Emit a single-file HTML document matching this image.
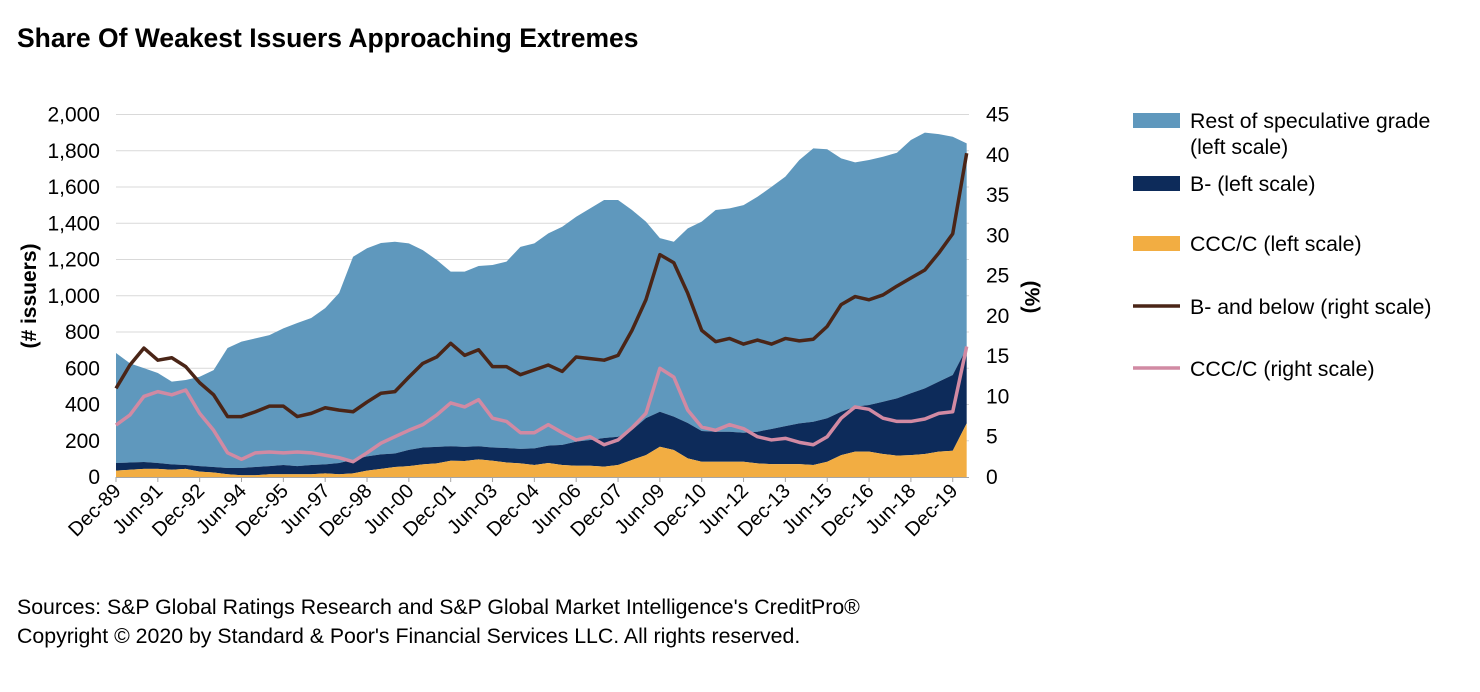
<!DOCTYPE html>
<html><head><meta charset="utf-8"><style>
body{margin:0;background:#fff;}
svg{display:block;font-family:"Liberation Sans",Arial,sans-serif;}
</style></head><body>
<svg id="c" width="1480" height="692" xmlns="http://www.w3.org/2000/svg">
<text x="17" y="47" font-size="26.5" font-weight="bold" fill="#000">Share Of Weakest Issuers Approaching Extremes</text>
<g id="grid"></g><g id="areas"></g><g id="lines"></g><g id="axes"></g>
<text transform="translate(36,296) rotate(-90)" text-anchor="middle" font-size="21" font-weight="bold">(# issuers)</text>
<text transform="translate(1025,297) rotate(90)" text-anchor="middle" font-size="21" font-weight="bold">(%)</text>
<g>
<rect x="1133" y="113" width="47" height="15" fill="#5f98bd"/>
<text x="1190" y="128" font-size="21.3">Rest of speculative grade</text>
<text x="1190" y="154" font-size="21.3">(left scale)</text>
<rect x="1133" y="176" width="47" height="15" fill="#0d2b5a"/>
<text x="1190" y="191" font-size="21.3">B- (left scale)</text>
<rect x="1133" y="236" width="47" height="15" fill="#f2ad42"/>
<text x="1190" y="251" font-size="21.3">CCC/C (left scale)</text>
<line x1="1133" y1="306" x2="1180" y2="306" stroke="#4a2517" stroke-width="3.5"/>
<text x="1190" y="314" font-size="21.3">B- and below (right scale)</text>
<line x1="1133" y1="368" x2="1180" y2="368" stroke="#d18aa3" stroke-width="3.5"/>
<text x="1190" y="376" font-size="21.3">CCC/C (right scale)</text>
</g>
<text x="17" y="614" font-size="21.3">Sources: S&amp;P Global Ratings Research and S&amp;P Global Market Intelligence's CreditPro®</text>
<text x="17" y="643" font-size="21.3">Copyright © 2020 by Standard &amp; Poor's Financial Services LLC. All rights reserved.</text>
</svg>
<script>
// months since Dec-89, every 6 months
const months=[0,6,12,18,24,30,36,42,48,54,60,66,72,78,84,90,96,102,108,114,120,126,132,138,144,150,156,162,168,174,180,186,192,198,204,210,216,222,228,234,240,246,252,258,264,270,276,282,288,294,300,306,312,318,324,330,336,342,348,354,360,366];
const totalIssuers=[684,627,601,574,526,535,553,590,712,747,765,783,820,850,877,932,1015,1215,1262,1291,1298,1289,1252,1197,1133,1133,1164,1170,1188,1270,1289,1344,1381,1436,1482,1528,1528,1473,1409,1318,1298,1372,1409,1473,1482,1500,1546,1601,1657,1749,1813,1808,1758,1736,1749,1767,1789,1859,1900,1892,1877,1841];
const bMinusAndCcc=[77,80,83,77,70,66,60,55,50,50,55,60,66,60,66,70,77,95,114,125,130,150,163,166,170,166,170,163,160,155,158,173,177,195,204,215,222,259,325,360,333,298,254,250,250,244,250,265,281,296,305,324,360,388,397,415,434,462,489,526,563,712];
const cccCount=[35,40,45,45,40,45,30,25,15,10,10,15,15,15,15,20,15,20,35,45,55,60,70,75,90,88,97,90,80,75,66,77,66,62,62,57,66,94,121,167,149,103,84,84,84,84,75,71,71,71,66,84,121,140,140,127,118,121,127,140,145,296];
const bBelowPct=[11.0,13.9,16.0,14.5,14.8,13.7,11.7,10.2,7.5,7.5,8.1,8.8,8.8,7.5,7.9,8.6,8.3,8.1,9.3,10.4,10.6,12.4,14.1,14.9,16.6,15.1,15.8,13.7,13.7,12.7,13.3,13.9,13.1,14.9,14.7,14.5,15.1,18.2,22.0,27.6,26.6,22.8,18.2,16.8,17.2,16.5,17.0,16.5,17.2,16.9,17.1,18.7,21.4,22.4,22.0,22.6,23.7,24.7,25.7,27.8,30.2,40.2];
const cccPct=[6.45,7.7,10.0,10.6,10.2,10.8,7.9,5.8,3.0,2.2,3.0,3.1,3.0,3.1,3.0,2.7,2.4,1.9,3.0,4.2,5.0,5.8,6.5,7.7,9.2,8.7,9.6,7.3,6.9,5.5,5.5,6.5,5.5,4.6,5.0,4.0,4.6,6.1,7.9,13.5,12.4,8.3,6.2,5.8,6.5,6.0,5.0,4.6,4.8,4.3,4.0,5.0,7.3,8.7,8.4,7.3,6.9,6.9,7.2,7.9,8.1,16.2];
const leftTicks=[0,200,400,600,800,1000,1200,1400,1600,1800,2000];
const rightTicks=[0,5,10,15,20,25,30,35,40,45];
const xLabels=["Dec-89","Jun-91","Dec-92","Jun-94","Dec-95","Jun-97","Dec-98","Jun-00","Dec-01","Jun-03","Dec-04","Jun-06","Dec-07","Jun-09","Dec-10","Jun-12","Dec-13","Jun-15","Dec-16","Jun-18","Dec-19"];

const NS="http://www.w3.org/2000/svg";
const X0=116,X1=969,Y0=477,Y1=114.5;
const xS=m=>X0+m*(X1-X0)/367;
const yL=v=>Y0-v*(Y0-Y1)/2000;
const yR=v=>Y0-v*(Y0-Y1)/45;
function mk(t,a,p){const e=document.createElementNS(NS,t);for(const k in a)e.setAttribute(k,a[k]);p.appendChild(e);return e;}
const grid=document.getElementById('grid'),areas=document.getElementById('areas'),lines=document.getElementById('lines'),axes=document.getElementById('axes');
leftTicks.forEach((v,i)=>{
  if(v>0){const g=mk('line',{x1:X0,x2:X1,y1:yL(v),y2:yL(v),stroke:'#d9d9d9','stroke-width':1},grid);
  
  }
  const t=mk('text',{x:100,y:yL(v)+7,'text-anchor':'end','font-size':21},axes);t.textContent=v.toLocaleString('en-US');
  
  
});
rightTicks.forEach(v=>{
  const t=mk('text',{x:986,y:yR(v)+7,'font-size':21},axes);t.textContent=v;
  
  
});
function areaPath(top,bot){
  let d='M'+xS(months[0])+','+yL(top[0]);
  for(let i=1;i<months.length;i++)d+='L'+xS(months[i])+','+yL(top[i]);
  for(let i=months.length-1;i>=0;i--)d+='L'+xS(months[i])+','+yL(bot?bot[i]:0);
  return d+'Z';
}
const a1=mk('path',{d:areaPath(totalIssuers,bMinusAndCcc),fill:'#5f98bd'},areas);


const a2=mk('path',{d:areaPath(bMinusAndCcc,cccCount),fill:'#0d2b5a'},areas);


const a3=mk('path',{d:areaPath(cccCount,null),fill:'#f2ad42'},areas);


function linePath(vals){return vals.map((v,i)=>(i?'L':'M')+xS(months[i])+','+yR(v)).join('');}
const l2=mk('path',{d:linePath(cccPct),fill:'none',stroke:'#d18aa3','stroke-width':3.5,'stroke-linejoin':'round'},lines);


const l1=mk('path',{d:linePath(bBelowPct),fill:'none',stroke:'#4a2517','stroke-width':3.5,'stroke-linejoin':'round'},lines);


const ax=mk('line',{x1:X0,x2:X1,y1:Y0+0.5,y2:Y0+0.5,stroke:'#a6a6a6','stroke-width':1},axes);


xLabels.forEach((s,i)=>{
  const x=xS(i*18);
  const tk=mk('line',{x1:x,x2:x,y1:Y0,y2:Y0+5,stroke:'#a6a6a6'},axes);
  
  
  const t=mk('text',{transform:`translate(${x+6},${Y0+15}) rotate(-45)`,'text-anchor':'end','font-size':20},axes);
  t.textContent=s;
  
  
});
</script>
</body></html>
